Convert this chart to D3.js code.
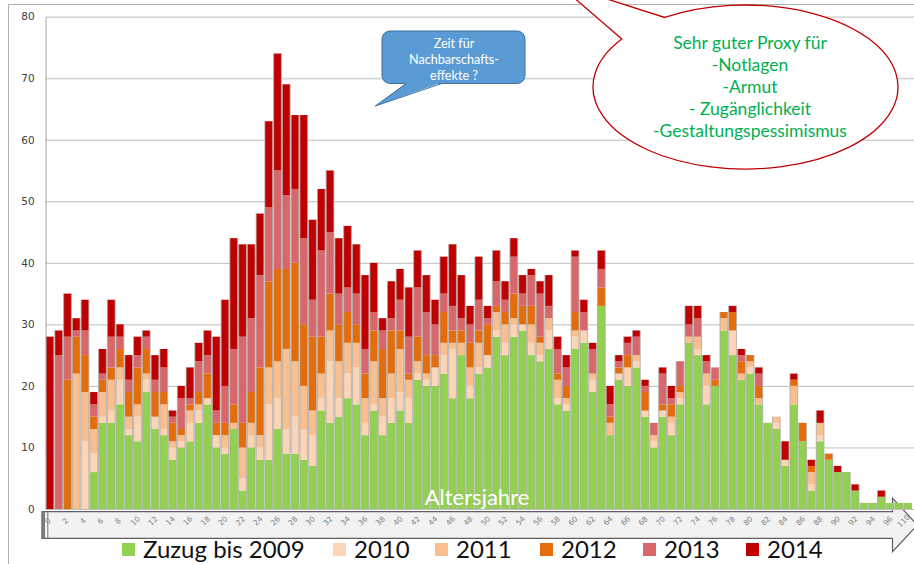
<!DOCTYPE html>
<html><head><meta charset="utf-8">
<script src="https://cdn.jsdelivr.net/npm/d3@7/dist/d3.min.js"></script>
<style>body{margin:0;background:#fff}svg{display:block}</style>
</head><body><svg id="c" width="914" height="564"></svg>
<script>
// ---------- data ----------
const categories = ["0","1","2","3","4","5","6","7","8","9","10","11","12","13","14","15","16","17","18","19",
"20","21","22","23","24","25","26","27","28","29","30","31","32","33","34","35","36","37","38","39",
"40","41","42","43","44","45","46","47","48","49","50","51","52","53","54","55","56","57","58","59",
"60","61","62","63","64","65","66","67","68","69","70","71","72","73","74","75","76","77","78","79",
"80","81","82","83","84","85","86","87","88","89","90","91","92","93","94","95","96","97","110"];
const xTickLabels = ["0","2","4","6","8","10","12","14","16","18","20","22","24","26","28","30","32","34","36","38",
"40","42","44","46","48","50","52","54","56","58","60","62","64","66","68","70","72","74","76","78",
"80","82","84","86","88","90","92","94","96","110"];
const yTickLabels = [0,10,20,30,40,50,60,70,80];
const seriesNames = ["Zuzug bis 2009","2010","2011","2012","2013","2014"];

const zuzugBis2009 = [0,0,0,0,0,6,14,14,17,12, 11,19,13,12,8,10,11,14,17,10, 9,13,3,10,8,8,13,9,9,8,
 7,16,14,15,18,17,12,16,12,14, 16,14,21,20,20,22,18,25,18,22, 23,28,25,28,29,25,24,26,17,16,
 26,27,19,33,12,21,20,23,15,10, 15,12,17,27,25,17,20,29,25,21, 22,17,14,13,7,17,11,3,11,8,
 6,6,3,1,1,2,1,1,1];
const zuzug2010 = [0,0,0,0,11,3,1,2,4,1, 4,2,2,1,2,1,3,2,1,2, 1,0,2,2,2,9,5,4,6,5,
 5,2,10,3,4,6,2,1,3,4, 3,4,1,1,3,3,8,0,2,1, 2,1,2,2,1,2,1,3,1,1,
 2,2,2,0,0,1,3,1,1,1, 1,2,1,0,1,3,0,0,4,0, 1,0,0,1,1,0,0,1,1,0,
 0,0,0,0,0,0,0,0,0];
const zuzug2011 = [0,0,0,22,8,4,4,5,2,2, 2,1,0,4,1,1,2,1,0,0, 2,1,5,2,2,6,6,13,9,7,
 4,4,5,6,5,4,4,7,3,4, 7,3,2,1,0,2,1,2,3,4, 0,3,3,1,0,3,2,2,3,1,
 1,0,1,0,2,0,0,1,0,1, 0,1,1,1,2,2,0,2,0,1, 1,1,0,1,0,3,0,2,2,0,
 0,0,0,0,0,0,0,0,0];
const zuzug2012 = [0,0,21,6,6,2,2,2,3,4, 6,4,4,2,3,1,1,2,4,2, 2,3,4,5,11,14,15,13,16,10,
 12,6,6,6,5,3,4,5,8,7, 3,1,4,3,2,5,2,2,4,2, 5,1,2,4,3,3,1,0,1,2,
 3,0,0,3,1,1,2,0,3,0, 1,2,1,0,0,0,1,1,3,2, 1,2,0,0,0,1,3,1,0,1,
 0,0,0,0,0,0,0,0,0];
const zuzug2013 = [0,25,7,1,4,2,1,5,2,2, 2,2,2,4,1,5,1,5,3,2, 6,9,14,12,15,12,16,12,12,14,
 6,14,10,5,4,5,4,3,3,2, 5,6,8,7,5,3,4,2,3,5, 1,4,2,6,2,5,7,2,4,3,
 9,3,4,3,2,1,2,3,1,2, 5,1,4,2,3,2,2,0,0,1, 0,2,0,0,0,0,0,0,0,0,
 0,0,0,0,0,0,0,0,0];
const zuzug2014 = [28,4,7,2,5,2,4,6,2,4, 3,1,4,3,1,2,5,3,4,12, 14,18,15,12,10,14,19,18,12,20,
 13,10,10,9,10,8,12,8,2,6, 5,8,6,6,4,6,10,7,3,7, 2,5,3,3,3,1,2,5,2,2,
 1,2,1,3,3,1,1,1,1,0, 1,2,0,3,2,1,0,0,1,1, 0,1,0,0,3,1,0,1,2,0,
 1,0,1,0,0,1,0,0,0];

const calloutBlue = ["Zeit für","Nachbarschafts-","effekte ?"];
const calloutRed = ["Sehr guter Proxy für","-Notlagen","-Armut","- Zugänglichkeit","-Gestaltungspessimismus"];
const axisTitle = "Altersjahre";

// ---------- styles ----------
const seriesColors = ["#92D050","#FBD5B5","#F9BF8F","#E46C0A","#D9676A","#C00000"];
const seriesArrays = [zuzugBis2009,zuzug2010,zuzug2011,zuzug2012,zuzug2013,zuzug2014];
const table = categories.map((c,i)=>{const r={age:c}; seriesNames.forEach((s,k)=>r[s]=seriesArrays[k][i]); return r;});

const svg = d3.select("#c");
const plotL = 45.6, plotR = 912, plotT = 16.6, plotB = 509;

const x = d3.scaleBand().domain(categories).range([plotL, plotR]).paddingInner(0.12).paddingOuter(0.06);
const y = d3.scaleLinear().domain([0,80]).range([plotB, plotT]);
const color = d3.scaleOrdinal().domain(seriesNames).range(seriesColors);

// outer border
svg.append("path").attr("d","M8.5,570 V4.5 H920").attr("fill","none").attr("stroke","#b0b0b0").attr("stroke-width",1);

// gridlines
const grid = svg.append("g").attr("transform",`translate(${plotL},0)`)
  .call(d3.axisLeft(y).tickValues(yTickLabels).tickSize(-(914-plotL)).tickFormat(""));
grid.select(".domain").remove();
grid.selectAll(".tick line").attr("stroke", d=> d===70 ? "#d6d6d6" : "#bdbdbd").attr("stroke-width", d=> d===70 ? 1.8 : 1);

// y axis labels
const yAxis = svg.append("g").attr("transform",`translate(${plotL},0)`)
  .call(d3.axisLeft(y).tickValues(yTickLabels).tickSize(0).tickPadding(11));
yAxis.select(".domain").attr("stroke","#a6a6a6");
yAxis.selectAll("text").attr("font-family","DejaVu Sans, Verdana, sans-serif").attr("font-size","10.5px").attr("fill","#404040");

// x axis arrow (block arrow)
svg.append("path")
  .attr("d","M42,511.7 H892.5 V498.3 L917.5,525 L892.5,551.7 V538.3 H42 Z")
  .attr("fill","#f2f2f2").attr("stroke","#5f5f5f").attr("stroke-width",1.2).attr("stroke-linejoin","miter");
svg.append("rect").attr("x",41.5).attr("y",511.7).attr("width",3.5).attr("height",26.6).attr("fill","#7a7a7a");
svg.append("line").attr("x1",47.8).attr("x2",47.8).attr("y1",511.7).attr("y2",538.3).attr("stroke","#7a7a7a").attr("stroke-width",1);

// stacked bars
const stacked = d3.stack().keys(seriesNames)(table);
const bars = svg.append("g");
bars.selectAll("g").data(stacked).join("g").attr("fill",d=>color(d.key))
  .selectAll("rect").data(d=>d).join("rect")
  .attr("x",d=>x(d.data.age)).attr("width",x.bandwidth())
  .attr("y",d=>y(d[1])).attr("height",d=>y(d[0])-y(d[1]));
// thin grey side edges of each bar
const totals = table.map(r=>({age:r.age, total:d3.sum(seriesNames,s=>r[s])}));
bars.append("g").selectAll("path").data(totals).join("path")
  .attr("d",d=>{const x0=x(d.age), x1=x0+x.bandwidth(), yt=y(d.total); return `M${x0},${plotB}V${yt}M${x1},${plotB}V${yt}`;})
  .attr("stroke","#a8a8a8").attr("stroke-width",0.8).attr("fill","none");
// zero line
svg.append("line").attr("x1",plotL).attr("x2",plotR).attr("y1",y(0)+0.5).attr("y2",y(0)+0.5).attr("stroke","#bdbdbd");

// x tick labels (inside arrow)
const xAxis = svg.append("g").attr("transform","translate(0,513)")
  .call(d3.axisBottom(x).tickValues(xTickLabels).tickSize(0).tickPadding(0));
xAxis.select(".domain").remove();
xAxis.selectAll("text").attr("font-family","DejaVu Sans, sans-serif").attr("font-size","7.5px").attr("fill","#7f7f7f")
  .attr("text-anchor","middle").attr("dy","0.32em").attr("y",0)
  .attr("transform",d=> d==="110" ? "translate(-4,8) rotate(-45)" : "translate(-2,8) rotate(-45)");

// axis title
svg.append("text").attr("x",477).attr("y",505).attr("text-anchor","middle")
  .attr("font-family","Lato, sans-serif").attr("font-size","22px").attr("fill","#ffffff").text(axisTitle);

// legend
const legendX = [122, 333, 435, 540, 643, 746];
const lg = svg.append("g");
seriesNames.forEach((s,i)=>{
  lg.append("rect").attr("x",legendX[i]).attr("y",543).attr("width",13).attr("height",13).attr("fill",color(s));
  lg.append("text").attr("x",legendX[i]+21).attr("y",557.5).attr("font-family","Lato, sans-serif")
    .attr("font-size","24px").attr("fill","#111").text(s);
});

// blue callout
const bc = svg.append("g");
bc.append("rect").attr("x",382).attr("y",31).attr("width",143).attr("height",52.5).attr("rx",8)
  .attr("fill","#5B9BD5").attr("stroke","#41719C").attr("stroke-width",1);
bc.append("path").attr("d","M406.5,82.5 L375.3,106 L441.7,82.5 Z").attr("fill","#5B9BD5");
bc.append("path").attr("d","M406.5,83.5 L375.3,106 L441.7,83.5").attr("fill","none").attr("stroke","#41719C").attr("stroke-width",1);
bc.selectAll("text").data(calloutBlue).join("text")
  .attr("x",454).attr("y",(d,i)=>48+i*16.2).attr("text-anchor","middle")
  .attr("font-family","Lato, sans-serif").attr("font-size","12.6px").attr("fill","#ffffff").text(d=>d);

// red ellipse callout
const cx=745.5, cy=87, erx=152.5, ery=82;
const aA = -144.2*Math.PI/180, aB = -122*Math.PI/180;
const A=[cx+erx*Math.cos(aA), cy+ery*Math.sin(aA)], B=[cx+erx*Math.cos(aB), cy+ery*Math.sin(aB)];
const tip=[557,-17];
svg.append("path")
  .attr("d",`M${A[0]},${A[1]} A${erx},${ery} 0 1 0 ${B[0]},${B[1]} L${tip[0]},${tip[1]} Z`)
  .attr("fill","#ffffff").attr("stroke","#C00000").attr("stroke-width",1.3);
svg.append("g").selectAll("text").data(calloutRed).join("text")
  .attr("x",750).attr("y",(d,i)=>49+i*22).attr("text-anchor","middle")
  .attr("font-family","Lato, sans-serif").attr("font-size","17.5px").attr("fill","#00B050").text(d=>d);
</script></body></html>
